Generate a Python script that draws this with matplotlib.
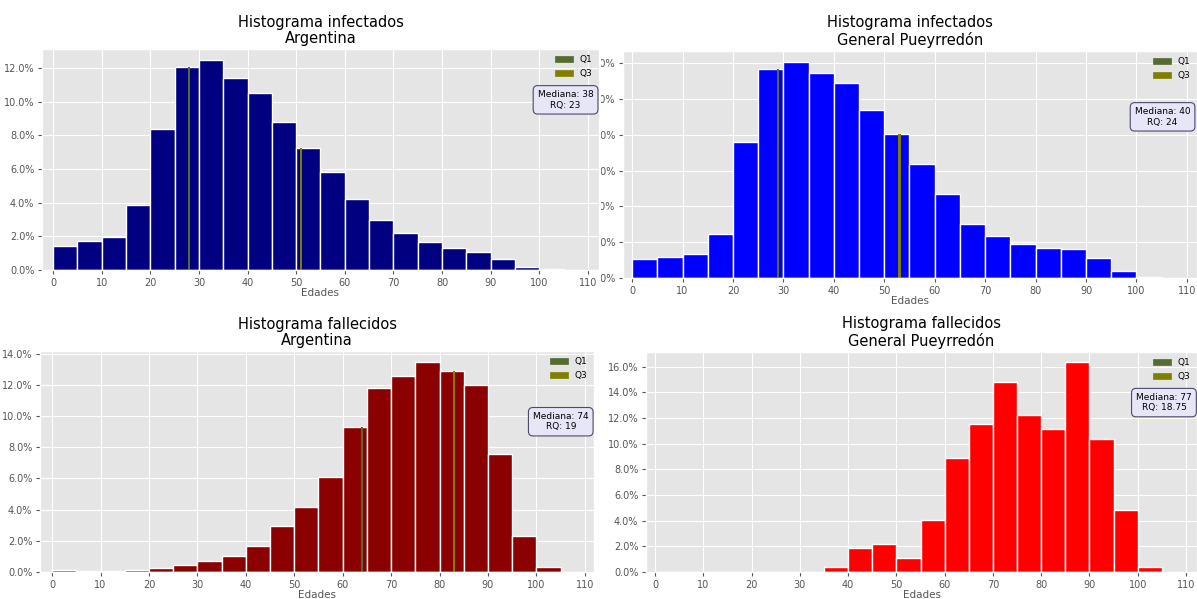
import matplotlib
matplotlib.use("Agg")
import matplotlib.pyplot as plt
import numpy as np
from matplotlib.patches import Patch
from matplotlib.ticker import PercentFormatter
from matplotlib.transforms import Bbox, TransformedBbox

plt.style.use("ggplot")

# age bins (5-year groups)
bins = np.arange(0, 110, 5)

# percent of cases per bin
inf_arg = [1.40, 1.74, 1.96, 3.86, 8.40, 12.06, 12.51, 11.41, 10.54, 8.80, 7.24,
           5.85, 4.21, 2.99, 2.19, 1.68, 1.32, 1.09, 0.65, 0.20, 0.04]
inf_gp = [1.04, 1.15, 1.32, 2.45, 7.59, 11.65, 12.07, 11.46, 10.89, 9.40, 8.05,
          6.38, 4.71, 3.04, 2.36, 1.89, 1.67, 1.63, 1.09, 0.39, 0.04]
fal_arg = [0.15, 0.09, 0.04, 0.15, 0.28, 0.43, 0.73, 1.00, 1.65, 2.97, 4.17,
           6.09, 9.30, 11.80, 12.59, 13.49, 12.87, 12.01, 7.57, 2.33, 0.32]
fal_gp = [0, 0, 0, 0, 0, 0, 0, 0.36, 1.87, 2.21, 1.12, 4.08, 8.90, 11.52,
          14.85, 12.25, 11.16, 16.34, 10.41, 4.84, 0.39]

# quartiles and summary box text
q1_vals = [28, 29, 64, None]
q3_vals = [51, 53, 83, None]
medianas = [38, 40, 74, 77]
rqs = ["23", "24", "19", "18.75"]

titles = ["Histograma infectados\nArgentina",
          "Histograma infectados\nGeneral Pueyrredón",
          "Histograma fallecidos\nArgentina",
          "Histograma fallecidos\nGeneral Pueyrredón"]
colors = ["navy", "blue", "darkred", "red"]
series = [inf_arg, inf_gp, fal_arg, fal_gp]

W, H = 1197, 599
fig = plt.figure(figsize=(W / 100, H / 100), dpi=100)

# axes boxes in pixels: left, right, top, bottom
boxes = [(42, 599, 49, 270), (623, 1197, 51, 278),
         (40, 594, 351, 572), (646, 1197, 352, 572)]
xlims = [(-2.3, 112.3), (-1.8, 112.0), (-2.5, 111.9), (-1.9, 112.3)]
box_y = [0.77, 0.71, 0.68, 0.77]

for i in range(4):
    l, r, t, b = boxes[i]
    ax = fig.add_axes([l / W, (H - b) / H, (r - l) / W, (b - t) / H])
    vals = series[i]
    ax.hist(bins[:-1], bins=bins, weights=vals, color=colors[i],
            edgecolor="white", linewidth=1.0)

    for q, c in ((q1_vals[i], "darkolivegreen"), (q3_vals[i], "olive")):
        if q is not None:
            h = vals[np.digitize(q, bins) - 1]
            ax.bar([q], [h], width=0.45, color=c)

    handles = [Patch(color="darkolivegreen", label="Q1"),
               Patch(color="olive", label="Q3")]
    ax.legend(handles=handles, loc="upper right", frameon=False,
              fontsize=6.5, handlelength=2.0, handleheight=0.6,
              borderaxespad=0.3, labelspacing=0.5)

    ax.text(0.94, box_y[i], f"Mediana: {medianas[i]}\nRQ: {rqs[i]}",
            transform=ax.transAxes, ha="center", va="center", fontsize=6.5,
            bbox=dict(boxstyle="round,pad=0.5", facecolor="#e6e6f8",
                      edgecolor="#4a4a6a", linewidth=0.8))

    ax.set_xlim(*xlims[i])
    ax.set_xticks(np.arange(0, 111, 10))
    ytop = ax.get_ylim()[1]
    ax.set_yticks(np.arange(0, ytop, 2))
    ax.set_ylim(0, ytop)
    ax.yaxis.set_major_formatter(PercentFormatter(decimals=1))
    ax.tick_params(labelsize=7, colors="#555555", length=3, pad=2.5)
    ax.set_xlabel("Edades", fontsize=7.5, color="#555555", labelpad=0.5)
    ax.set_title(titles[i], fontsize=10.5, color="black", pad=4,
                 linespacing=1.15)

    if i == 1:
        # this panel's y labels are cut off by the neighbouring plot
        clip = TransformedBbox(Bbox([[601 / W, 0], [1, 1]]), fig.transFigure)
        for tick in ax.yaxis.get_major_ticks():
            tick.label1.set_clip_on(True)
            tick.label1.set_clip_box(clip)

fig.savefig("out.png", dpi=100)
